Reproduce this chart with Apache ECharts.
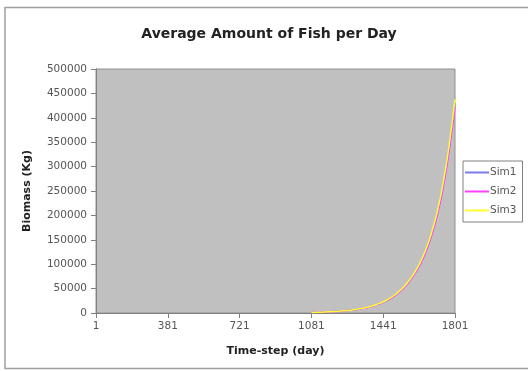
<!DOCTYPE html>
<html>
<head>
<meta charset="utf-8">
<script src="https://cdn.jsdelivr.net/npm/echarts@6/dist/echarts.min.js"></script>
<style>
  html, body { margin: 0; padding: 0; background: #ffffff; }
  #chart { width: 528px; height: 371px; }
</style>
</head>
<body>
<div id="chart"></div>
<script>
// Time-step (day) of each sample
var days = [1081, 1111, 1141, 1171, 1201, 1231, 1261, 1291, 1321, 1351, 1381, 1411, 1441,
            1471, 1501, 1531, 1561, 1591, 1621, 1651, 1681, 1711, 1741, 1771, 1801];

// Average biomass (Kg) per simulation run
var sim1 = [1100, 1500, 1900, 2400, 3100, 4000, 5100, 6500, 8400, 10600, 13700, 17600, 22500,
            28600, 36800, 47000, 60000, 76500, 97000, 123500, 158000, 202000, 260000, 336000, 430000];
var sim2 = [1100, 1500, 1900, 2400, 3000, 3900, 5000, 6400, 8200, 10400, 13400, 17200, 22000,
            28000, 36000, 46000, 59000, 75000, 95000, 121000, 155000, 198000, 255000, 330000, 422000];
var sim3 = [1200, 1600, 2000, 2500, 3200, 4100, 5200, 6700, 8600, 10900, 14000, 18000, 23000,
            29300, 37600, 48000, 61500, 78000, 99000, 126000, 161000, 206000, 265000, 342000, 438000];

// Category ticks on the time axis and their labels
var xTickValues = [1, 361, 721, 1081, 1441, 1801];
var xTickLabels = ['1', '381', '721', '1081', '1441', '1801'];

var seriesNames = ['Sim1', 'Sim2', 'Sim3'];
var seriesData = [sim1, sim2, sim3];
var seriesColors = ['#7a7ae8', '#ff40ff', '#ffff33'];

function pairs(vals) {
  return days.map(function (d, i) { return [d, vals[i]]; });
}

var chart = echarts.init(document.getElementById('chart'), null, { renderer: 'canvas' });

var font = 'DejaVu Sans, Verdana, sans-serif';

chart.setOption({
  animation: false,
  backgroundColor: '#ffffff',
  textStyle: { fontFamily: font },
  graphic: [{
    type: 'rect',
    z: -10,
    shape: { x: 5, y: 7.5, width: 540, height: 361 },
    style: { fill: '#ffffff', stroke: '#a0a0a0', lineWidth: 1.5 }
  }],
  title: {
    text: 'Average Amount of Fish per Day',
    left: 264,
    textAlign: 'center',
    top: 22,
    textStyle: { fontFamily: font, fontSize: 14, fontWeight: 'bold', color: '#222222' }
  },
  legend: {
    orient: 'vertical',
    left: 463,
    top: 161,
    width: 60,
    padding: [6, 6, 6, 2],
    borderColor: '#808080',
    borderWidth: 1,
    backgroundColor: '#ffffff',
    itemWidth: 24,
    itemHeight: 2,
    itemGap: 8,
    icon: 'rect',
    textStyle: { fontFamily: font, fontSize: 10.5, color: '#555555', padding: [0, 0, 0, -4] },
    data: seriesNames
  },
  grid: {
    left: 96,
    top: 69,
    width: 359,
    height: 244,
    show: true,
    backgroundColor: '#c0c0c0',
    borderColor: '#909090',
    borderWidth: 1
  },
  xAxis: {
    type: 'value',
    min: 1,
    max: 1801,
    name: 'Time-step (day)',
    nameLocation: 'middle',
    nameGap: 33,
    nameTextStyle: { fontFamily: font, fontSize: 11, fontWeight: 'bold', color: '#222222' },
    splitLine: { show: false },
    axisLine: { show: true, lineStyle: { color: '#808080', width: 1 } },
    axisTick: { show: true, length: 5, inside: false, customValues: xTickValues,
                lineStyle: { color: '#808080' } },
    axisLabel: {
      customValues: xTickValues,
      margin: 8,
      fontFamily: font,
      fontSize: 10.5,
      color: '#555555',
      formatter: function (v) {
        var i = xTickValues.indexOf(v);
        return i >= 0 ? xTickLabels[i] : '';
      }
    }
  },
  yAxis: {
    type: 'value',
    min: 0,
    max: 500000,
    interval: 50000,
    name: 'Biomass (Kg)',
    nameLocation: 'middle',
    nameGap: 63,
    nameRotate: 90,
    nameTextStyle: { fontFamily: font, fontSize: 11, fontWeight: 'bold', color: '#222222' },
    splitLine: { show: false },
    axisLine: { show: true, lineStyle: { color: '#808080', width: 1 } },
    axisTick: { show: true, length: 5, inside: false, lineStyle: { color: '#808080' } },
    axisLabel: {
      margin: 9, fontFamily: font, fontSize: 10.5, color: '#555555',
      formatter: function (v) { return String(v); }
    }
  },
  series: seriesNames.map(function (name, k) {
    return {
      name: name,
      type: 'line',
      data: pairs(seriesData[k]),
      smooth: true,
      showSymbol: false,
      symbol: 'none',
      lineStyle: { color: seriesColors[k], width: 1.5 },
      itemStyle: { color: seriesColors[k] }
    };
  })
});
</script>
</body>
</html>
